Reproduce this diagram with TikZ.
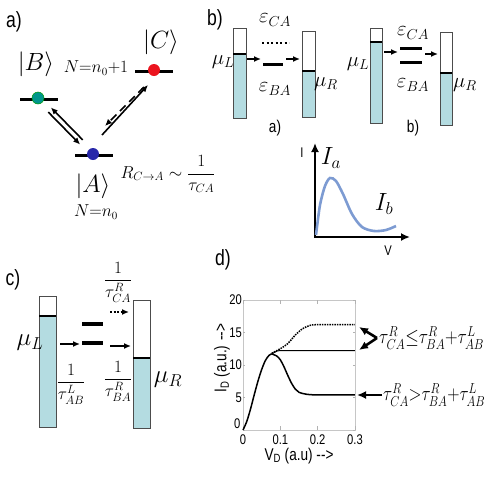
\documentclass[tikz,border=0pt]{standalone}
\usepackage{amsmath}
\usepackage{fontspec}
\setmainfont{Liberation Serif}
\setsansfont{Liberation Sans}
\newfontfamily\narrowsf[FakeStretch=0.8]{Liberation Sans}
\usetikzlibrary{arrows.meta,calc,positioning}
\definecolor{resfill}{RGB}{180,220,225}
\definecolor{ivblue}{RGB}{125,155,210}
\definecolor{dotB}{RGB}{0,150,140}
\definecolor{dotC}{RGB}{235,20,30}
\definecolor{dotA}{RGB}{40,40,170}
\tikzset{level/.style={line width=3pt}}
\tikzset{fermi/.style={line width=2.6pt}}
\tikzset{res/.style={draw=black!70,line width=0.9pt}}
\tikzset{flow/.style={-{Latex[length=7pt,width=6pt]},line width=1.6pt}}
\tikzset{bigflow/.style={-{Latex[length=9pt,width=8pt]},line width=2.6pt}}
\tikzset{panel/.style={font=\narrowsf\fontsize{22}{22}\selectfont}}
\tikzset{statedot/.style={circle,inner sep=0pt,minimum size=12pt}}
\tikzset{tick/.style={font=\narrowsf\fontsize{14}{14}\selectfont,inner sep=1pt}}
\newcommand{\resbox}[5]{%
  \fill[resfill] (#1,#5) rectangle (#2,#4);
  \draw[res] (#1,#3) rectangle (#2,#4);
  \draw[fermi] (#1,#5) -- (#2,#5);}
\newcommand{\fs}[1]{\fontsize{#1}{#1}\selectfont}

\begin{document}
\begin{tikzpicture}[x=1pt,y=-1pt]
	\useasboundingbox (0,0) rectangle (485,485);
	%% panel a
	\node[panel] (la) at (14,22) {a)};
	\draw[level] (20,99) -- (58,99);
	\draw[level] (135,71) -- (173,71);
	\draw[level] (75,155) -- (113,155);
	\node[statedot,fill=dotB,draw=green!60!black,line width=0.5pt] (B) at (38,98) {};
	\node[statedot,fill=dotC] (C) at (154,70) {};
	\node[statedot,fill=dotA] (A) at (93,154) {};
	\node[font=\fs{24}] (ketB) at (36,64) {$\left|B\right\rangle$};
	\node[font=\fs{24}] (ketC) at (161,42) {$\left|C\right\rangle$};
	\node[font=\fs{24}] (ketA) at (93,186) {$\left|A\right\rangle$};
	\node[font=\fs{16}] (nup) at (96,68) {$N{=}n_0{+}1$};
	\node[font=\fs{16}] (ndown) at (96,212) {$N{=}n_0$};
	\node[font=\fs{17}] (rate) at (168,174) {$R_{C\to A}\sim\dfrac{1}{\tau_{CA}}$};
	\draw[flow] ($(A)!0.22!(B)+(1.8,-1.8)$) -- ($(A)!0.8!(B)+(1.8,-1.8)$);
	\draw[flow] ($(B)!0.22!(A)+(-1.8,1.8)$) -- ($(B)!0.8!(A)+(-1.8,1.8)$);
	\draw[flow] ([shift={(9,-19)}]A.center) -- ([shift={(-6,15)}]C.center);
	\draw[flow,dash pattern=on 8pt off 5pt] ([shift={(-10,17)}]C.center) -- ([shift={(12,-28)}]A.center);
	%% panel b
	\node[panel] (lb) at (215,20) {b)};
	\resbox{233}{246}{28}{118}{54}
	\resbox{302}{315}{31}{117}{71}
	\node[font=\fs{20}] (muL1) at (223,62) {$\mu_L$};
	\node[font=\fs{20}] (muR1) at (326,84) {$\mu_R$};
	\node[font=\fs{20}] (eca1) at (275,20) {$\varepsilon_{CA}$};
	\node[font=\fs{20}] (eba1) at (275,89) {$\varepsilon_{BA}$};
	\draw[line width=2.5pt,dash pattern=on 2pt off 2.5pt] (262,43) -- (289,43);
	\draw[level] (263,64) -- (283,64);
	\coordinate (l1a) at (247,59); \coordinate (l1b) at (261,59);
	\coordinate (r1a) at (286,59); \coordinate (r1b) at (300,59);
	\draw[flow] (l1a) -- (l1b);
	\draw[flow] (r1a) -- (r1b);
	\node[font=\narrowsf\fs{17}] (subA) at (275,128) {a)};
	%%
	\resbox{370}{382}{28}{123}{42}
	\resbox{440}{452}{32}{125}{73}
	\node[font=\fs{20}] (muL2) at (358,64) {$\mu_L$};
	\node[font=\fs{20}] (muR2) at (465,85) {$\mu_R$};
	\node[font=\fs{20}] (eca2) at (413,33) {$\varepsilon_{CA}$};
	\node[font=\fs{20}] (eba2) at (413,85) {$\varepsilon_{BA}$};
	\draw[level] (400,48) -- (422,48);
	\draw[level] (400,62) -- (422,62);
	\coordinate (l2a) at (384,52); \coordinate (l2b) at (398,52);
	\coordinate (r2a) at (425,54); \coordinate (r2b) at (438,54);
	\draw[flow] (l2a) -- (l2b);
	\draw[flow] (r2a) -- (r2b);
	\node[font=\narrowsf\fs{17}] (subB) at (413,128) {b)};
	%% I-V sketch
	\coordinate (iv0) at (315,237);
	\coordinate (ivy) at (315,143);
	\coordinate (ivx) at (410,237);
	\draw[bigflow] ([yshift=1pt]iv0) -- (ivy);
	\draw[bigflow] ([xshift=-1pt]iv0) -- (ivx);
	\draw[ivblue,line width=2.6pt,smooth] plot coordinates {(316,235) (320,205) (325,186) (330,178) (336,181) (343,194) (352,214) (362,227) (374,231) (386,230) (396,226)};
	\node[font=\narrowsf\fs{14}] (ivI) at (302,153) {I};
	\node[font=\narrowsf\fs{14}] (ivV) at (388,251) {V};
	\node[font=\fs{24}] (Ia) at (331,158) {$I_a$};
	\node[font=\fs{24}] (Ib) at (384,204) {$I_b$};
	%% panel c
	\node[panel] (lc) at (13,280) {c)};
	\resbox{39}{56}{296}{427}{316}
	\resbox{133}{150}{300}{428}{358}
	\draw[line width=4pt] (82,324) -- (103,324);
	\draw[line width=4pt] (82,343) -- (103,343);
	\node[font=\fs{26}] (muL3) at (30,343) {$\mu_L$};
	\node[font=\fs{26}] (muR3) at (168,380) {$\mu_R$};
	\coordinate (c1a) at (60,344); \coordinate (c1b) at (80,344);
	\coordinate (c2a) at (110,312); \coordinate (c2b) at (129,312);
	\coordinate (c3a) at (110,346); \coordinate (c3b) at (131,346);
	\draw[flow] (c1a) -- (c1b);
	\draw[flow,dash pattern=on 2pt off 1.5pt] (c2a) -- (c2b);
	\draw[flow] (c3a) -- (c3b);
	\node[font=\fs{17}] (tAB) at (71,384) {$\dfrac{1}{\tau^{L}_{AB}}$};
	\node[font=\fs{17}] (tCA) at (118,282) {$\dfrac{1}{\tau^{R}_{CA}}$};
	\node[font=\fs{17}] (tBA) at (118,381) {$\dfrac{1}{\tau^{R}_{BA}}$};
	%% panel d
	\node[panel] (ld) at (223,260) {d)};
	\begin{scope}[shift={(243,430)},x=373.3pt,y=6.5pt]
		\draw[gray!45,line width=0.7pt] (0,0) rectangle (0.3,20);
		\foreach \t in {0,0.1,0.2,0.3} {
			\draw[gray!60] (\t,0) -- (\t,0.6);
			\draw[gray!60] (\t,20) -- (\t,19.4);
			\node[tick,below] at (\t,-0.6) {\t};
		}
		\foreach \v in {5,10,15,20} {
			\node[tick,left] at (0,\v) {\v};
		}
		\foreach \v in {0,5,10,15,20} {
			\draw[gray!60] (0,\v) -- (0.006,\v);
			\draw[gray!60] (0.3,\v) -- (0.294,\v);
		}
		\node[tick,left] at (-0.004,1) {0};
		\draw[line width=1.5pt,smooth] plot coordinates {(0,0) (0.01,1.3) (0.02,3.2) (0.03,5.4) (0.04,7.5) (0.05,9.3) (0.06,10.7) (0.07,11.5) (0.077,11.7)};
		\draw[line width=1.5pt,smooth] plot coordinates {(0.077,11.7) (0.09,11.4) (0.1,10.8) (0.11,9.7) (0.12,8.4) (0.13,7.2) (0.14,6.3) (0.15,5.8) (0.17,5.5) (0.2,5.4) (0.3,5.4)};
		\draw[line width=1pt,smooth] plot coordinates {(0.077,11.7) (0.09,12.1) (0.1,12.2) (0.2,12.2) (0.3,12.2)};
		\draw[line width=1.5pt,densely dotted,smooth] plot coordinates {(0.077,11.8) (0.09,12.2) (0.1,12.5) (0.12,13.3) (0.14,14.6) (0.16,15.6) (0.18,16.1) (0.2,16.2) (0.3,16.2)};
	\end{scope}
	\node[font=\narrowsf\fs{17},rotate=90] (ylab) at (222,358) {I\textsubscript{D} (a.u.) -{}-{}>};
	\node[font=\narrowsf\fs{17}] (xlab) at (299,456) {V\textsubscript{D} (a.u) -{}-{}>};
	\coordinate (bend) at (377,338);
	\coordinate (hiTip) at (359,327);
	\coordinate (midTip) at (359,350);
	\coordinate (loTail) at (382,395);
	\coordinate (loTip) at (357,395);
	\draw[bigflow] (bend) -- (hiTip);
	\draw[bigflow] (bend) -- (midTip);
	\draw[bigflow] (loTail) -- (loTip);
	\node[font=\fs{22},anchor=west,inner sep=0pt] (condA) at (379,338) {\scalebox{0.84}[1]{$\tau^{R}_{CA}{\le}\tau^{R}_{BA}{+}\tau^{L}_{AB}$}};
	\node[font=\fs{22},anchor=west,inner sep=0pt] (condB) at (383,395) {\scalebox{0.82}[1]{$\tau^{R}_{CA}{>}\tau^{R}_{BA}{+}\tau^{L}_{AB}$}};
\end{tikzpicture}
\end{document}
